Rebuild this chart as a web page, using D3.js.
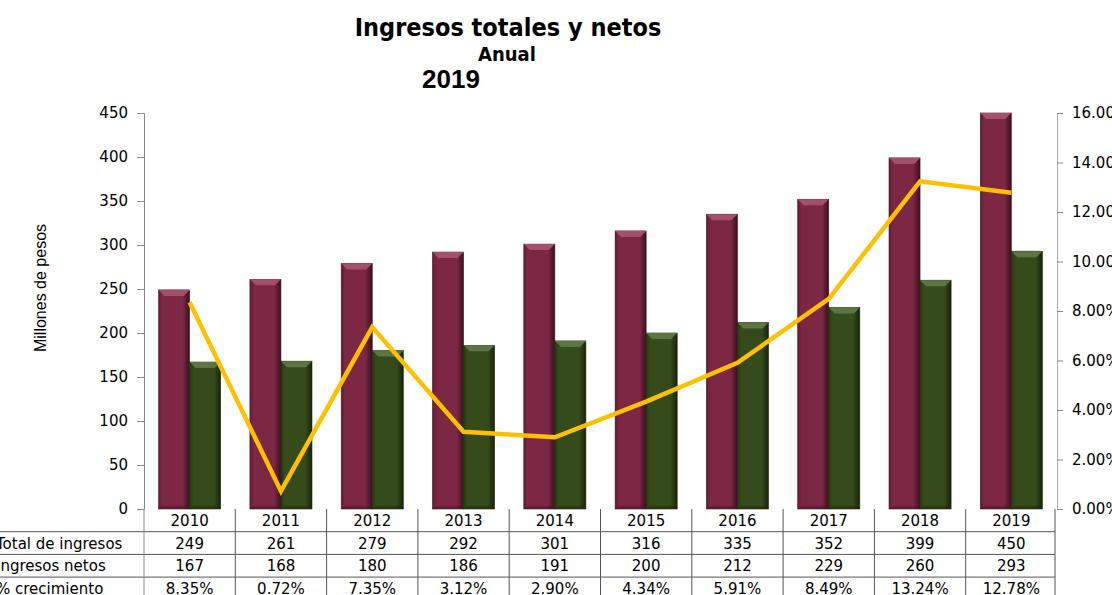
<!DOCTYPE html>
<html>
<head>
<meta charset="utf-8">
<script src="https://cdn.jsdelivr.net/npm/d3@7"></script>
<style>
  body { margin: 0; background: #fff; }
  svg { display: block; }
</style>
</head>
<body>
<svg id="chart" width="1112" height="595"></svg>
<script>
// datos
var years = ["2010", "2011", "2012", "2013", "2014", "2015", "2016", "2017", "2018", "2019"];
var totalIngresos = [249, 261, 279, 292, 301, 316, 335, 352, 399, 450];
var ingresosNetos = [167, 168, 180, 186, 191, 200, 212, 229, 260, 293];
var crecimiento = [8.35, 0.72, 7.35, 3.12, 2.90, 4.34, 5.91, 8.49, 13.24, 12.78];
var leftTicks = [0, 50, 100, 150, 200, 250, 300, 350, 400, 450];
var rightTicks = [0, 2, 4, 6, 8, 10, 12, 14, 16];
var rowLabels = ["Total de ingresos", "Ingresos netos", "% crecimiento"];

var font = "'DejaVu Sans', sans-serif";
var fontCond = "'DejaVu Sans Condensed', 'DejaVu Sans', sans-serif";
var svg = d3.select("#chart");

var pLeft = 144, pRight = 1057, pTop = 113, pBottom = 509;

var x = d3.scaleBand().domain(years).range([pLeft, pRight]).padding(0);
var y = d3.scaleLinear().domain([0, 450]).range([pBottom, pTop]);
var y2 = d3.scaleLinear().domain([0, 16]).range([pBottom, pTop]);
var bw = x.bandwidth() * 0.34;

// gradientes para el efecto de bisel
var defs = svg.append("defs");
function barGradient(id, dark, mid, light) {
    var g = defs.append("linearGradient").attr("id", id)
        .attr("x1", "0%").attr("x2", "100%").attr("y1", "0%").attr("y2", "0%");
    g.append("stop").attr("offset", "0%").attr("stop-color", dark);
    g.append("stop").attr("offset", "12%").attr("stop-color", mid);
    g.append("stop").attr("offset", "78%").attr("stop-color", mid);
    g.append("stop").attr("offset", "100%").attr("stop-color", light);
}
barGradient("gMaroon", "#5e1c33", "#7c2845", "#3a0f1e");
barGradient("gGreen", "#26380f", "#354b1c", "#172408");

// titulos
svg.append("text").attr("x", 508).attr("y", 36).attr("text-anchor", "middle")
    .attr("font-family", fontCond).attr("font-weight", "bold").attr("font-size", 25)
    .text("Ingresos totales y netos");
svg.append("text").attr("x", 507).attr("y", 61).attr("text-anchor", "middle")
    .attr("font-family", fontCond).attr("font-weight", "bold").attr("font-size", 20)
    .text("Anual");
svg.append("text").attr("x", 422).attr("y", 88)
    .attr("font-family", "'Liberation Sans', sans-serif").attr("font-weight", "bold").attr("font-size", 26)
    .text("2019");

// eje izquierdo
var yAxis = svg.append("g").attr("transform", "translate(" + pLeft + ",0)")
    .call(d3.axisLeft(y).tickValues(leftTicks).tickSize(7).tickPadding(9));
yAxis.select(".domain").attr("stroke", "#888");
yAxis.selectAll(".tick line").attr("stroke", "#888");
yAxis.selectAll("text").attr("font-family", font).attr("font-size", 15).attr("fill", "#000");

svg.append("text")
    .attr("transform", "translate(46,288) rotate(-90)")
    .attr("text-anchor", "middle")
    .attr("font-family", "'Liberation Sans Narrow', 'Liberation Sans', sans-serif").attr("font-size", 16)
    .text("Millones de pesos");

// eje derecho
var y2Axis = svg.append("g").attr("transform", "translate(" + pRight + ",0)")
    .call(d3.axisRight(y2).tickValues(rightTicks).tickSize(6).tickPadding(9)
        .tickFormat(function(d) { return d.toFixed(2) + "%"; }));
y2Axis.select(".domain").attr("stroke", "#aaa");
y2Axis.selectAll(".tick line").attr("stroke", "#888");
y2Axis.selectAll("text").attr("font-family", font).attr("font-size", 15).attr("fill", "#000");

// barras
function drawBars(values, offset, grad, bevel, edge) {
    var g = svg.append("g").selectAll("g").data(values).enter().append("g")
        .attr("transform", function(d, i) {
            return "translate(" + (x(years[i]) + x.bandwidth() / 2 + offset) + "," + y(d) + ")";
        });
    g.append("rect")
        .attr("width", bw)
        .attr("height", function(d) { return pBottom - y(d); })
        .attr("fill", "url(#" + grad + ")")
        .attr("stroke", edge).attr("stroke-width", 0.6);
    g.append("path")
        .attr("d", "M0,0 L" + bw + ",0 L" + (bw - 6) + ",6 L6,6 Z")
        .attr("fill", bevel);
    g.append("path")
        .attr("d", function(d) {
            var h = pBottom - y(d);
            return "M0," + h + " L" + bw + "," + h + " L" + (bw - 4) + "," + (h - 3) + " L4," + (h - 3) + " Z";
        })
        .attr("fill", edge).attr("opacity", 0.5);
}
drawBars(totalIngresos, -bw, "gMaroon", "#a2506c", "#4a1426");
drawBars(ingresosNetos, 0, "gGreen", "#5d7444", "#1c2a0c");

// linea de crecimiento
var line = d3.line()
    .x(function(d, i) { return x(years[i]) + x.bandwidth() / 2; })
    .y(function(d) { return y2(d); });
svg.append("path").datum(crecimiento)
    .attr("d", line)
    .attr("fill", "none")
    .attr("stroke", "#ffc000")
    .attr("stroke-width", 4.5)
    .attr("stroke-linejoin", "miter");

// tabla de datos
var rowH = 22.7;
var tbl = svg.append("g");
var rows = [years, totalIngresos, ingresosNetos, crecimiento.map(function(v) { return v.toFixed(2) + "%"; })];

for (var r = 1; r <= 3; r++) {
    tbl.append("line").attr("x1", 0).attr("x2", pRight - 2)
        .attr("y1", pBottom + rowH * r).attr("y2", pBottom + rowH * r)
        .attr("stroke", "#555").attr("stroke-width", 1);
}
tbl.append("line").attr("x1", pLeft).attr("x2", pLeft).attr("y1", pBottom).attr("y2", 595)
    .attr("stroke", "#888");
years.forEach(function(yr, i) {
    var xe = x(yr) + x.bandwidth() - (i == years.length - 1 ? 2 : 0);
    tbl.append("line").attr("x1", xe).attr("x2", xe)
        .attr("y1", pBottom).attr("y2", 595)
        .attr("stroke", "#555");
});

rows.forEach(function(vals, r) {
    tbl.selectAll(null).data(vals).enter().append("text")
        .attr("x", function(d, i) { return x(years[i]) + x.bandwidth() / 2; })
        .attr("y", pBottom + rowH * r + 17)
        .attr("text-anchor", "middle")
        .attr("font-family", font).attr("font-size", 15)
        .text(function(d) { return d; });
});
rowLabels.forEach(function(lbl, r) {
    tbl.append("text")
        .attr("x", -4)
        .attr("y", pBottom + rowH * (r + 1) + 17)
        .attr("font-family", font).attr("font-size", 15)
        .text(lbl);
});
</script>
</body>
</html>
